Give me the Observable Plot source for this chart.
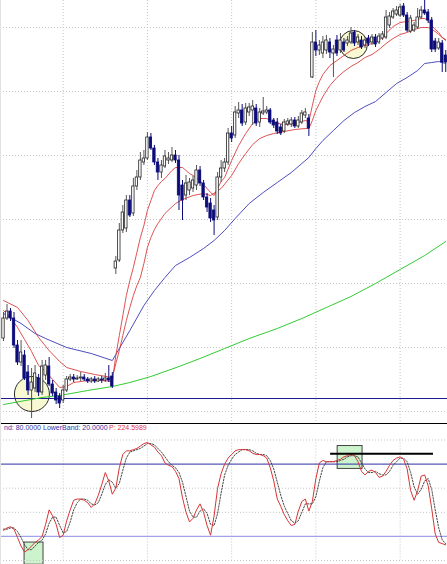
<!DOCTYPE html>
<html>
<head>
<meta charset="utf-8">
<script src="https://cdn.jsdelivr.net/npm/d3@7"></script>
<script src="https://cdn.jsdelivr.net/npm/@observablehq/plot@0.6"></script>
<style>
  html, body { margin: 0; padding: 0; background: #fff; }
  #wrap { position: relative; width: 447px; height: 564px; overflow: hidden; background: #fff; font-family: "Liberation Sans", Arial, sans-serif; }
  #top { position: absolute; left: 0; top: 0; }
  #bot { position: absolute; left: 0; top: 432px; }
  #sep { position: absolute; left: 0; top: 423px; width: 447px; height: 1px; background: #000; }
  #edge { position: absolute; left: 0; top: 0; width: 1px; height: 564px; background: #e2e2e2; }
  .lg { position: absolute; top: 423.5px; font-size: 7px; line-height: 8px; white-space: pre; }
  svg { overflow: visible; }
</style>
</head>
<body>
<div id="wrap">
  <div id="top"></div>
  <div id="sep"></div>
  <div class="lg" style="left:4px;color:#3434a8">nd: 80.0000</div>
  <div class="lg" style="left:43px;color:#3434a8">LowerBand: 20.0000</div>
  <div class="lg" style="left:109px;color:#e03a3a">P: 224.5989</div>
  <div id="bot"></div>
  <div id="edge"></div>
</div>
<script>
// ---------- price candles (bar index 0..126) ----------
const open = [137,157,164,157,130,113,120,103,85,87,
  97,83,100,109,91,83,79,75,85,96,
  98,96,97,98,96,94,96,94,96,95,
  97,99,207,215,245,247,275,262,289,298,
  313,317,338,327,313,303,309,315,315,320,
  315,290,280,285,287,290,305,292,278,272,
  265,258,298,307,313,342,340,362,365,353,
  363,365,367,353,362,363,365,355,353,348,
  344,351,351,355,349,353,360,357,398,433,
  425,422,425,433,422,435,425,433,432,433,
  443,433,435,430,437,433,438,433,437,438,
  450,458,461,460,469,460,444,445,448,458,
  465,463,455,434,427,432,420];
const close = [157,164,157,130,113,123,97,85,93,102,
  83,109,110,91,82,75,72,85,96,98,
  96,97,98,96,94,96,94,96,95,97,
  95,89,214,245,263,275,260,289,298,315,
  317,338,327,313,303,310,319,317,320,315,
  280,275,292,293,295,305,292,278,268,257,
  255,298,307,313,342,337,363,365,352,367,
  368,369,352,363,364,365,353,350,344,342,
  353,354,355,349,355,362,363,347,433,425,
  430,433,435,423,426,422,435,425,435,442,
  432,438,428,435,432,438,431,439,441,458,
  459,464,465,468,460,445,457,450,458,465,
  462,455,426,426,433,413,413];
const high = [163,171,167,163,135,135,125,110,107,110,
  101,115,115,118,95,87,82,90,99,101,
  101,100,103,101,98,98,99,98,99,102,
  110,103,219,252,270,280,280,297,305,323,
  325,343,342,330,317,315,325,323,328,325,
  320,295,300,297,299,310,309,295,282,277,
  270,303,315,317,347,349,369,373,371,372,
  372,375,371,367,378,369,367,357,357,351,
  356,357,358,358,359,365,367,361,443,445,
  435,439,440,437,430,440,442,437,439,448,
  445,441,439,438,440,441,441,442,444,465,
  463,467,469,471,472,463,460,453,467,469,
  475,466,458,437,437,435,425];
const low = [134,155,154,127,110,109,95,80,57,83,
  79,80,95,89,79,71,67,72,83,94,
  93,95,94,94,92,92,92,93,92,93,
  93,87,201,213,242,243,258,259,285,295,
  310,315,325,310,295,297,307,311,313,312,
  265,255,275,280,283,285,289,275,263,253,
  240,255,293,303,310,333,337,357,349,350,
  359,350,349,348,360,361,351,347,341,340,
  342,349,348,347,347,351,357,339,397,419,
  420,417,421,417,398,419,422,423,429,431,
  429,430,426,427,429,430,428,431,435,436,
  447,456,459,458,458,443,442,443,446,456,
  460,452,423,423,425,403,403];

// ---------- moving averages: [bar, price] ----------
const fastMA = [[0,165],[2,158],[4,148],[6,136],[8,124],[10,110],[12,104],[14,96],[16,88],[18,89],[20,93],[24,95],[28,95],[31,94],
  [32,120],[33,140],[34,160],[35,180],[36,195],[37,208],[38,223],[39,238],[40,250],[41,265],[42,275],[43,285],[44,290],[45,294],[46,297],
  [48,305],[49,308],[51,308],[53,302],[55,298],[57,291],[59,283],[60,280],[61,287],[62,294],[63,298],[65,315],[67,330],[69,342],[71,352],
  [73,357],[75,357],[77,353],[80,351],[83,352],[86,355],[87,354],[88,370],[89,385],[90,394],[91,401],[93,410],[95,415],[97,420],[99,425],
  [101,428],[103,430],[105,432],[107,435],[109,442],[111,449],[113,453],[115,454],[117,455],[119,457],[120,457],[121,455],[122,450],
  [123,446],[124,443],[125,438],[126,436]];
const slowMA = [[0,175],[4,168],[7,155],[10,138],[13,125],[16,114],[18,108],[22,104],[26,101],[31,98],[32,112],[33,125],[34,140],[35,155],
  [36,168],[37,180],[38,190],[39,198],[40,212],[41,228],[42,238],[43,246],[44,252],[46,262],[49,272],[51,276],[54,280],[57,282],[59,280],
  [62,287],[65,300],[67,312],[69,322],[71,331],[73,337],[75,340],[77,342],[80,344],[83,346],[86,347],[87,347],[88,355],[89,365],[90,372],
  [91,379],[93,390],[95,398],[97,404],[99,409],[101,413],[103,418],[105,421],[107,426],[109,432],[111,437],[113,441],[115,443],[117,446],
  [119,448],[121,448],[122,446],[123,444],[124,441],[125,438],[126,435]];
const blueMA = [[0,162],[5,152],[9,142],[12,137],[18,128],[25,122],[31,115],[32,121],[36,145],[40,170],[43,185],[46,198],[49,210],[53,218],
  [57,227],[60,235],[63,245],[66,257],[70,272],[74,283],[78,293],[82,303],[85,312],[87,318],[89,327],[91,335],[94,345],[97,355],[100,363],
  [103,369],[106,374],[109,383],[112,392],[115,398],[118,405],[120,412],[122,413],[124,414],[126,412]];
const greenMA = [[0,71],[11,78],[16,80],[24,85],[31,89],[36,93],[42,99],[50,109],[56,117],[63,127],[70,137],[78,147],[85,157],[92,168],
  [99,179],[106,192],[113,206],[120,220],[126,234]];
const supportLevel = [77];
const highlights = [{bar: 8.1, price: 81.5, r: 17.5}, {bar: 99.7, price: 431, r: 14}];

// ---------- stochastic ----------
const stochK = [25,27,28,26,19,12,7,9,12,15,
  17,20,30,42,37,30,19,21,33,42,
  50,51,51,50,48,44,47,54,63,73,
  66,55,60,77,88,91,91,92,93,95,
  97,98,96,94,90,87,81,79,78,74,
  68,52,40,32,35,42,47,40,29,21,
  37,60,72,80,85,88,91,92,92,92,
  91,89,88,88,87,85,77,66,51,45,
  38,33,29,30,41,49,51,41,49,68,
  81,83,82,82,82,83,84,86,87,88,
  87,82,74,71,74,75,73,69,70,74,
  79,83,85,86,84,76,58,50,58,70,
  71,62,43,22,15,14,13];
const stochD = [26,26,27,27,24,19,13,9,9,12,
  15,17,22,31,36,36,29,23,24,32,
  42,48,51,51,50,47,46,48,55,63,
  67,65,60,64,75,85,90,91,92,93,
  95,97,97,96,93,90,86,82,79,77,
  73,65,53,41,36,36,41,43,39,30,
  29,39,56,71,79,84,88,90,92,92,
  92,91,89,88,88,87,83,76,65,54,
  45,39,33,31,33,40,47,47,47,53,
  66,77,82,82,82,82,83,84,86,87,
  87,86,81,76,73,73,74,72,71,71,
  74,79,82,85,85,82,73,61,55,59,
  66,68,59,42,27,17,14];
const bands = [80, 20];
const signalZones = [{b1: 6.0, b2: 11.4, v1: -3.5, v2: 14.9}, {b1: 95.2, b2: 102.3, v1: 76, v2: 95}];
const levelLine = [{b1: 93.2, b2: 122.5, v: 88.5}];

// ---------- grid ticks ----------
const dayGrid = [17, 41, 65, 89, 113];
const priceGrid = [64, 128, 192, 256, 320, 384, 448];
const oscGrid = [0, 40, 60, 100];

const xDomain = [-0.855, 126.5];
const navy = "#0c0c7a";
const gridStyle = {stroke: "#c4c4c4", strokeDasharray: "1,2", strokeWidth: 1};

const bars = open.map((o, i) => ({i, open: o, close: close[i], high: high[i], low: low[i], up: close[i] >= o}));
const pairs = a => a.map(([b, v]) => ({b, v}));

const topChart = Plot.plot({
  width: 447, height: 423,
  marginTop: 0, marginBottom: 0, marginLeft: 0, marginRight: 0,
  x: {domain: xDomain, axis: null},
  y: {domain: [52, 475], axis: null},
  r: {type: "identity"},
  marks: [
    Plot.ruleY(priceGrid, gridStyle),
    Plot.ruleX(dayGrid, gridStyle),
    Plot.dot(highlights, {x: "bar", y: "price", r: "r", fill: "#f8f8d2", stroke: "#2a2a2a", strokeWidth: 1}),
    Plot.ruleY(supportLevel, {stroke: "#1c1c90", strokeWidth: 1}),
    Plot.line(pairs(greenMA), {x: "b", y: "v", stroke: "#33cc33", strokeWidth: 1}),
    Plot.line(pairs(blueMA), {x: "b", y: "v", stroke: "#3a3ab8", strokeWidth: 0.9}),
    Plot.line(pairs(slowMA), {x: "b", y: "v", stroke: "#d83434", strokeWidth: 0.85}),
    Plot.line(pairs(fastMA), {x: "b", y: "v", stroke: "#d83434", strokeWidth: 0.85}),
    Plot.ruleX(bars, {x: "i", y1: "low", y2: "high", stroke: d => d.up ? "#555" : navy, strokeWidth: 1}),
    Plot.rect(bars, {x1: d => d.i - 0.34, x2: d => d.i + 0.34, y1: "open", y2: "close",
      fill: d => d.up ? "#ffffff" : navy, stroke: d => d.up ? "#222" : navy, strokeWidth: 0.8})
  ]
});
document.getElementById("top").appendChild(topChart);

const stoch = stochK.map((k, i) => ({i, k, d: stochD[i]}));
const botChart = Plot.plot({
  width: 447, height: 132,
  marginTop: 7.5, marginBottom: 4, marginLeft: 0, marginRight: 0,
  x: {domain: xDomain, axis: null},
  y: {domain: [0, 100], axis: null},
  marks: [
    Plot.rect(signalZones, {x1: "b1", x2: "b2", y1: "v1", y2: "v2", fill: "#cdf3cd", stroke: "#444", strokeWidth: 1}),
    Plot.ruleY(oscGrid, gridStyle),
    Plot.ruleX(dayGrid, gridStyle),
    Plot.ruleY([bands[0]], {stroke: "#2e2ea6", strokeWidth: 1}),
    Plot.ruleY([bands[1]], {stroke: "#a2a2ec", strokeWidth: 1.2}),
    Plot.line(stoch, {x: "i", y: "d", stroke: "#333", strokeWidth: 0.9, strokeDasharray: "1.5,1.5"}),
    Plot.line(stoch, {x: "i", y: "k", stroke: "#d83434", strokeWidth: 1}),
    Plot.ruleY(levelLine, {y: "v", x1: "b1", x2: "b2", stroke: "#000", strokeWidth: 2})
  ]
});
document.getElementById("bot").appendChild(botChart);
</script>
</body>
</html>
